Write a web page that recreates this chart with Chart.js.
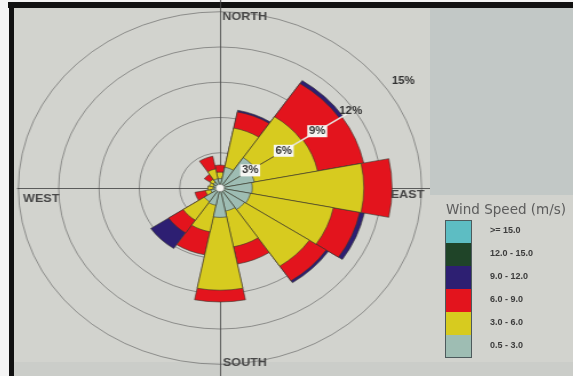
<!DOCTYPE html>
<html>
<head>
<meta charset="utf-8">
<script src="https://cdn.jsdelivr.net/npm/chart.js@4.4.0/dist/chart.umd.min.js"></script>
<style>
  html, body { margin: 0; padding: 0; background: #fff; }
  #frame { position: relative; width: 573px; height: 376px; overflow: hidden; background: #f4f4f4; }
  .edge { position: absolute; background: #111; }
  #paper { position: absolute; left: 14px; top: 8px; right: 0; bottom: 0; background: #d2d3ce; }
  #bottomBand { position: absolute; left: 14px; top: 362px; right: 0; bottom: 0; background: #cbcdc9; }
  #panel { position: absolute; left: 430px; top: 8px; width: 143px; height: 187px; background: #c2c8c6; z-index: 2; }
  #chartBox { position: absolute; left: 20px; top: 0; width: 400px; height: 376px;
              transform-origin: 200px 188px; transform: scaleX(1.144); z-index: 1; }
  #legendTitle { position: absolute; left: 446px; top: 201px; font: 13.5px "DejaVu Sans", sans-serif; color: #5c5c5c; z-index: 2; white-space: nowrap; }
  #legend { position: absolute; left: 445px; top: 220px; z-index: 2; }
  .row { position: relative; height: 23px; }
  .swatch { position: absolute; left: 0; top: 0; width: 27px; height: 23px; border-left: 1px solid #4d5a5c; border-right: 1px solid #4d5a5c; box-sizing: border-box; }
  .row:first-child .swatch { border-top: 1px solid #4d5a5c; }
  .row:last-child .swatch { border-bottom: 1px solid #4d5a5c; }
  .txt { position: absolute; left: 45px; top: 5px; font: bold 9px "Liberation Sans", Arial, sans-serif; color: #3c3c3c; white-space: nowrap; }
</style>
</head>
<body>
<div id="frame">
  <div id="paper"></div>
  <div id="bottomBand"></div>
  <div class="edge" style="left:8px;top:2px;width:565px;height:6px"></div>
  <div class="edge" style="left:9px;top:2px;width:5px;height:374px"></div>
  <div id="panel"></div>
  <div id="chartBox"><canvas id="rose"></canvas></div>
  <div id="legendTitle">Wind Speed (m/s)</div>
  <div id="legend"></div>
</div>
<script>
// wind directions (16 sectors, clockwise from north)
const directions = ['N', 'NNE', 'NE', 'ENE', 'E', 'ESE', 'SE', 'SSE', 'S', 'SSW', 'SW', 'WSW', 'W', 'WNW', 'NW', 'NNW'];

// frequency (%) of each speed class per direction
const speed_05_3  = [0.8, 1.8, 3.1, 2.6, 2.4, 2.3, 2.2, 2.0, 2.5, 1.5, 1.4, 0.7, 0.5, 0.5, 0.6, 0.8];
const speed_3_6   = [0.55, 3.4, 4.2, 4.8, 8.3, 6.3, 5.8, 3.1, 6.2, 2.3, 1.9, 0.4, 0.4, 0.3, 0.3, 0.85];
const speed_6_9   = [0.6, 1.4, 3.4, 3.5, 2.1, 2.0, 1.5, 1.5, 1.0, 2.0, 1.3, 0.8, 0, 0, 0.5, 1.1];
const speed_9_12  = [0, 0.15, 0.3, 0, 0, 0.35, 0.2, 0, 0, 0, 1.6, 0, 0, 0, 0, 0];
const speed_12_15 = [0, 0, 0, 0, 0, 0, 0, 0, 0, 0, 0, 0, 0, 0, 0, 0];
const speed_15_up = [0, 0, 0, 0, 0, 0, 0, 0, 0, 0, 0, 0, 0, 0, 0, 0];

const speedClasses = ['0.5 - 3.0', '3.0 - 6.0', '6.0 - 9.0', '9.0 - 12.0', '12.0 - 15.0', '>= 15.0'];
const classColors = ['#9ebdb3', '#d7cb1f', '#e3141d', '#2d1f72', '#1f4428', '#5dbdc3'];

const ringTicks = [3, 6, 9, 12, 15];
const compassLabels = ['NORTH', 'EAST', 'SOUTH', 'WEST'];

const bins = [speed_05_3, speed_3_6, speed_6_9, speed_9_12, speed_12_15, speed_15_up];

// stacked rose: each class drawn from the centre out to its running total,
// first dataset ends up on top so the inner classes cover the outer ones
const datasets = bins.map((bin, b) => ({
  label: speedClasses[b],
  data: bin.map((v, i) => v > 0 ? bins.slice(0, b + 1).reduce((s, arr) => s + arr[i], 0) : 0),
  backgroundColor: classColors[b],
  borderColor: 'rgba(55,55,45,0.75)',
  borderWidth: 0.8
}));

// legend, top row is the fastest class
const legend = document.getElementById('legend');
for (let b = speedClasses.length - 1; b >= 0; b--) {
  const row = document.createElement('div');
  row.className = 'row';
  row.innerHTML = '<div class="swatch" style="background:' + classColors[b] + '"></div><div class="txt"></div>';
  row.querySelector('.txt').textContent = speedClasses[b];
  legend.appendChild(row);
}

function polar(s, deg, value) {
  const r = s.getDistanceFromCenterForValue(value);
  const a = deg * Math.PI / 180;
  return { x: s.xCenter + r * Math.sin(a), y: s.yCenter - r * Math.cos(a) };
}

const roseOverlay = {
  id: 'roseOverlay',
  beforeDatasetsDraw(chart) {
    const s = chart.scales.r, c = chart.ctx;
    const R = s.drawingArea;
    c.save();
    c.strokeStyle = 'rgba(70,70,70,0.85)';
    c.lineWidth = 1;
    c.beginPath();
    c.moveTo(s.xCenter + 0.5, s.yCenter - R);
    c.lineTo(s.xCenter + 0.5, s.yCenter + R);
    c.moveTo(s.xCenter - s.getDistanceFromCenterForValue(15.1), s.yCenter + 0.5);
    c.lineTo(s.xCenter + R, s.yCenter + 0.5);
    c.stroke();
    c.restore();
  },
  afterDatasetsDraw(chart) {
    const s = chart.scales.r, c = chart.ctx;
    const labelAngle = 56.25;
    c.save();

    // light ray along the label line
    const p0 = polar(s, labelAngle, 5.6), p1 = polar(s, labelAngle, 11.4);
    c.strokeStyle = 'rgba(245,245,240,0.9)';
    c.lineWidth = 1.6;
    c.beginPath(); c.moveTo(p0.x, p0.y); c.lineTo(p1.x, p1.y); c.stroke();

    // calm circle in the middle
    c.fillStyle = '#f3f3ef';
    c.strokeStyle = 'rgba(120,120,120,0.6)';
    c.lineWidth = 0.6;
    c.beginPath(); c.arc(s.xCenter, s.yCenter, 3.6, 0, Math.PI * 2); c.fill(); c.stroke();

    // ring labels
    c.font = 'bold 10px "Liberation Sans", Arial, sans-serif';
    c.textAlign = 'center';
    c.textBaseline = 'middle';
    ringTicks.forEach(v => {
      const p = polar(s, labelAngle, v === 15 ? 16.4 : v - 0.3);
      const txt = v + '%';
      const w = c.measureText(txt).width;
      if (v <= 9) {
        c.fillStyle = '#f6f6f2';
        c.fillRect(p.x - w / 2 - 1.5, p.y - 6, w + 3, 12);
      }
      c.fillStyle = '#333';
      c.fillText(txt, p.x, p.y);
    });

    // compass labels
    c.font = 'bold 11px "Liberation Sans", Arial, sans-serif';
    c.fillStyle = '#474747';
    c.textBaseline = 'middle';
    c.textAlign = 'left';
    c.fillText(compassLabels[0], s.xCenter + 2, s.yCenter - s.getDistanceFromCenterForValue(14.55));
    c.fillText(compassLabels[2], s.xCenter + 2.5, s.yCenter + s.getDistanceFromCenterForValue(14.9));
    c.fillText(compassLabels[3], s.xCenter - s.getDistanceFromCenterForValue(14.65), s.yCenter + 11);
    c.textAlign = 'right';
    c.fillText(compassLabels[1], s.xCenter + s.getDistanceFromCenterForValue(15.2), s.yCenter + 7);
    c.restore();
  }
};

new Chart(document.getElementById('rose'), {
  type: 'polarArea',
  data: { labels: directions, datasets: datasets },
  options: {
    responsive: true,
    maintainAspectRatio: false,
    animation: false,
    layout: { padding: 0 },
    plugins: { legend: { display: false }, tooltip: { enabled: false } },
    scales: {
      r: {
        min: 0,
        max: 16,
        startAngle: -11.25,
        ticks: { display: false, stepSize: 3 },
        grid: {
          circular: true,
          lineWidth: 0.8,
          color: ctx => ringTicks.includes(ctx.tick.value) ? 'rgba(85,85,85,0.7)' : 'transparent'
        },
        angleLines: { display: false },
        pointLabels: { display: false }
      }
    }
  },
  plugins: [roseOverlay]
});
</script>
</body>
</html>
